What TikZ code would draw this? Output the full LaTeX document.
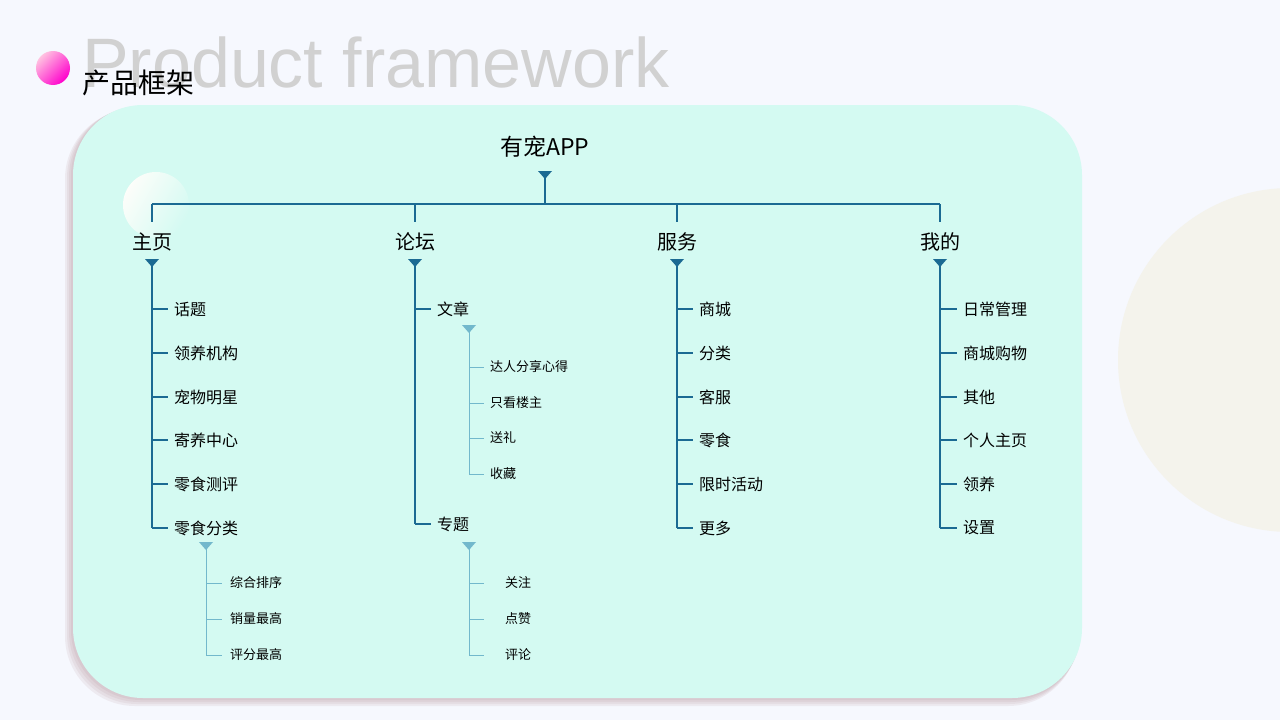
\documentclass[tikz,border=0pt]{standalone}
\usepackage{fontspec}
\setmainfont{Noto Sans CJK SC}
\newfontfamily\latinf{Liberation Sans}
\definecolor{bg}{HTML}{F6F8FE}
\definecolor{card}{HTML}{D4FAF2}
\definecolor{dk}{HTML}{1B6A93}
\definecolor{lt}{HTML}{72B8CC}
\definecolor{beige}{HTML}{F4F3EC}
\definecolor{shd}{HTML}{B08890}
\tikzset{
 l1/.style={font=\fontsize{20}{22}\selectfont,inner sep=0pt},
 l2/.style={font=\fontsize{16}{18}\selectfont,inner sep=0pt,anchor=west},
 l3/.style={font=\fontsize{13}{15}\selectfont,inner sep=0pt,anchor=west},
 dl/.style={draw=dk,line width=1.2pt},
 ll/.style={draw=lt,line width=1pt},
}
\newcommand{\tridown}[3]{\fill[#3] (#1-7,#2-4) -- (#1+7,#2-4) -- (#1,#2+4) -- cycle;}
\begin{document}
\begin{tikzpicture}[x=1pt,y=-1pt]
\useasboundingbox (0,0) rectangle (1280,720);
\fill[bg] (0,0) rectangle (1280,720);
\fill[beige] (1290,360) circle (172);
\foreach \d in {8,6,4,2}{
  \fill[shd,opacity=0.12,rounded corners=70pt] (73-\d,105+\d/2) rectangle (1082-\d/2,698+\d);
}
\fill[card,rounded corners=70pt] (73,105) rectangle (1082,698);
\shade[left color=yellow!30!card!90!black!5, right color=card, shading angle=60] (156,205) circle (33);
\shade[left color=pink!80!magenta!60, right color=magenta!80!red, shading angle=45] (53,68) circle (17);
\node[anchor=west,inner sep=0pt,text=black!18,font=\latinf\fontsize{70}{70}\selectfont] (en) at (82,62) {Product framework};
\node[anchor=west,inner sep=0pt,font=\fontsize{28}{30}\selectfont] (cn) at (82,83) {产品框架};
\node[l1,font=\fontsize{23}{25}\selectfont] (root) at (545,147) {有宠APP};
\tridown{545}{175}{dk}
\coordinate (r1) at (545,175);
\coordinate (r2) at (545,204);
\draw[dl] (r1) -- (r2);
\coordinate (hL) at (152,204); \coordinate (hR) at (940,204);
\draw[dl] (hL) -- (hR);
\foreach \x/\t/\n in {152/主页/a,415/论坛/b,677/服务/c,940/我的/d}{
  \node[l1] (\n) at (\x,242) {\t};
  \draw[dl] (\x,204) -- (\x,222);
  \tridown{\x}{263}{dk}
}
\foreach \y/\t [count=\i] in {309/话题,353/领养机构,397/宠物明星,440/寄养中心,484/零食测评,528/零食分类}{
  \node[l2] (a\i) at (174,\y) {\t};
  \draw[dl] (152,\y) -- (168,\y);
}
\draw[dl] (152,263) -- (152,528);
\foreach \y/\t [count=\i] in {309/商城,353/分类,397/客服,440/零食,484/限时活动,528/更多}{
  \node[l2] (c\i) at (699,\y) {\t};
  \draw[dl] (677,\y) -- (693,\y);
}
\draw[dl] (677,263) -- (677,528);
\foreach \y/\t [count=\i] in {309/日常管理,353/商城购物,397/其他,440/个人主页,484/领养,528/设置}{
  \node[l2] (d\i) at (963,\y) {\t};
  \draw[dl] (940,\y) -- (957,\y);
}
\draw[dl] (940,263) -- (940,528);
\node[l2] (b1) at (437,309) {文章};
\node[l2] (b2) at (437,524) {专题};
\draw[dl] (415,309) -- (431,309);
\draw[dl] (415,524) -- (431,524);
\draw[dl] (415,263) -- (415,524);
\tridown{206}{546}{lt}
\draw[ll] (206,546) -- (206,655);
\foreach \y/\t [count=\i] in {583/综合排序,619/销量最高,655/评分最高}{
  \node[l3] (e\i) at (230,\y) {\t};
  \draw[ll] (206,\y) -- (222,\y);
}
\tridown{469}{329}{lt}
\draw[ll] (469,329) -- (469,474);
\foreach \y/\t [count=\i] in {367/达人分享心得,403/只看楼主,438/送礼,474/收藏}{
  \node[l3] (f\i) at (490,\y) {\t};
  \draw[ll] (469,\y) -- (484,\y);
}
\tridown{469}{546}{lt}
\draw[ll] (469,546) -- (469,655);
\foreach \y/\t [count=\i] in {583/关注,619/点赞,655/评论}{
  \node[l3] (g\i) at (505,\y) {\t};
  \draw[ll] (469,\y) -- (484,\y);
}
\end{tikzpicture}
\end{document}
